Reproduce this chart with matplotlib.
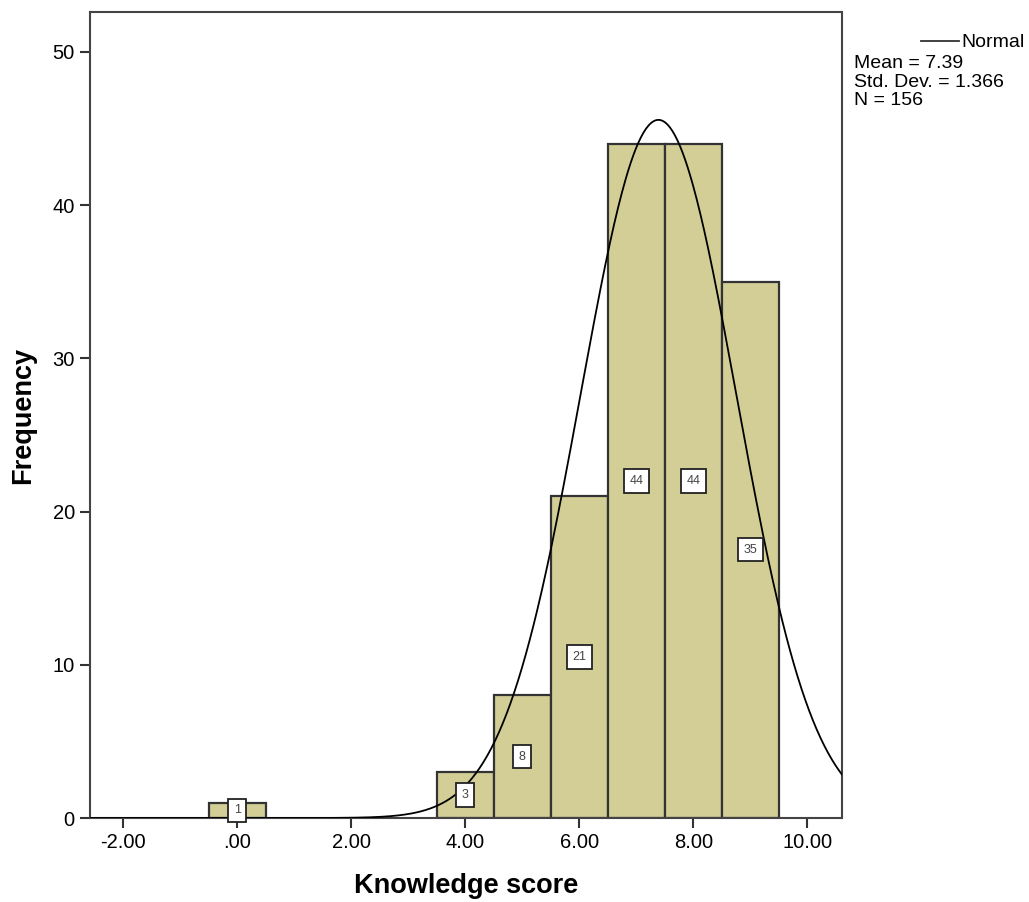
import numpy as np
import matplotlib.pyplot as plt

# histogram counts
bins = [0, 4, 5, 6, 7, 8, 9]
counts = [1, 3, 8, 21, 44, 44, 35]
mean = 7.39
sd = 1.366
n = 156
xticks = [-2, 0, 2, 4, 6, 8, 10]
xticklabels = ['-2.00', '.00', '2.00', '4.00', '6.00', '8.00', '10.00']
yticks = [0, 10, 20, 30, 40, 50]

plt.rcParams['font.family'] = ['Liberation Sans', 'DejaVu Sans']

fig = plt.figure(figsize=(10.29, 9.02), dpi=100)
ax = fig.add_axes([0.0875, 0.0931, 0.7308, 0.8936])

ax.bar(bins, counts, width=1.0, color='#d3ce96', edgecolor='#333333', linewidth=1.6, zorder=2)

for b, c in zip(bins, counts):
    ax.text(b, c / 2, str(c), ha='center', va='center', fontsize=9, color='#444444', zorder=4,
            bbox=dict(boxstyle='square,pad=0.45', fc='white', ec='#222222', lw=1.3))

# normal curve scaled to counts (bin width 1)
xs = np.linspace(-2.6, 10.7, 600)
ys = n * np.exp(-0.5 * ((xs - mean) / sd) ** 2) / (sd * np.sqrt(2 * np.pi))
ax.plot(xs, ys, color='black', linewidth=1.3, zorder=3)

ax.set_xlim(-2.58, 10.61)
ax.set_ylim(0, 52.6)
ax.set_xticks(xticks)
ax.set_xticklabels(xticklabels)
ax.set_yticks(yticks)
ax.tick_params(direction='out', length=7, width=1.5, labelsize=14.5, color='#333333', pad=4)
for s in ax.spines.values():
    s.set_linewidth(1.5)
    s.set_color('#444444')

ax.set_xlabel('Knowledge score', fontsize=19.5, fontweight='bold', labelpad=15)
ax.set_ylabel('Frequency', fontsize=19.5, fontweight='bold', labelpad=12)

# legend-style stats box outside the axes
fig.text(0.934, 0.953, 'Normal', fontsize=14, ha='left', va='center')
fig.add_artist(plt.Line2D([0.895, 0.932], [0.955, 0.955], color='#333333', lw=1.3))
fig.text(0.830, 0.909, 'Mean = 7.39\nStd. Dev. = 1.366\nN = 156', fontsize=14,
         ha='left', va='center', linespacing=1.12)

fig.savefig('out.png', dpi=100)
